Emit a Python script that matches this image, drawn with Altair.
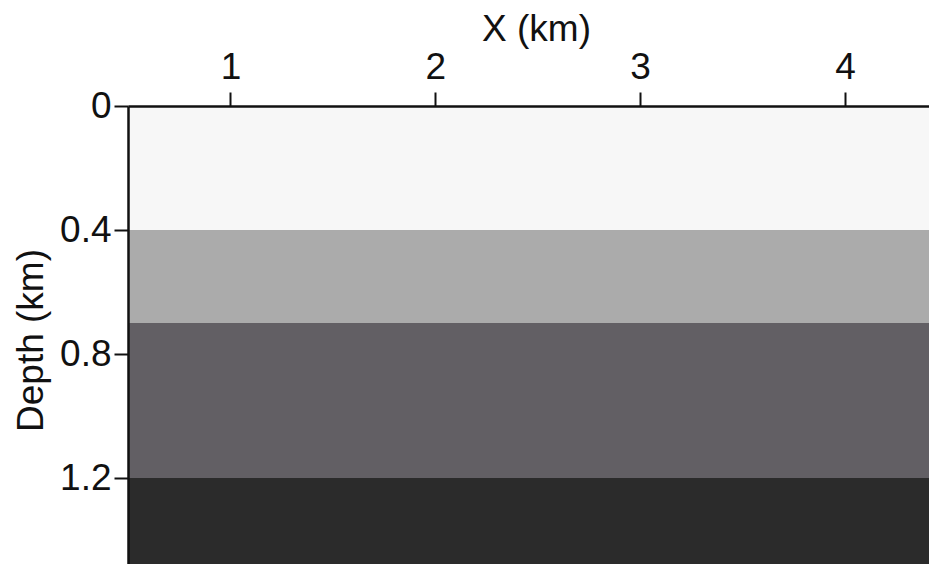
import altair as alt
import pandas as pd

# Layered depth model (km)
layer_top = [0.0, 0.4, 0.7, 1.2]
layer_bottom = [0.4, 0.7, 1.2, 1.5]
layer_shade = ["#f7f7f7", "#ababab", "#625f64", "#2b2b2b"]
layer_name = ["L1", "L2", "L3", "L4"]
x_start = [0.5, 0.5, 0.5, 0.5]
x_end = [4.5, 4.5, 4.5, 4.5]

x_ticks = [1, 2, 3, 4]
y_ticks = [0, 0.4, 0.8, 1.2]

df = pd.DataFrame({
    "name": layer_name,
    "top": layer_top,
    "bottom": layer_bottom,
    "x0": x_start,
    "x1": x_end,
    "shade": layer_shade,
})

FONT = "Liberation Sans"

chart = alt.Chart(df).mark_rect(clip=True).encode(
    x=alt.X("x0:Q",
            scale=alt.Scale(domain=[0.5, 4.41], nice=False, zero=False),
            axis=alt.Axis(orient="top", values=x_ticks, title="X (km)",
                          grid=False, zindex=1,
                          labelExpr="format(datum.value, 'd')",
                          titleX=408, titleY=-66, titleBaseline="alphabetic",
                          labelPadding=6)),
    x2="x1:Q",
    y=alt.Y("top:Q",
            scale=alt.Scale(domain=[0, 1.477], nice=False, zero=False, reverse=True),
            axis=alt.Axis(orient="left", values=y_ticks, title="Depth (km)",
                          grid=False, zindex=1,
                          labelExpr="datum.value == 0 ? '0' : format(datum.value, '.1f')",
                          titleX=-86, titleY=234, titleBaseline="alphabetic",
                          labelPadding=3)),
    y2="bottom:Q",
    color=alt.Color("shade:N", scale=None),
).properties(
    width=801,
    height=458,
    autosize=alt.AutoSizeParams(type="none"),
    padding={"left": 120, "top": 98, "right": 0, "bottom": 0},
).configure_view(
    stroke=None
).configure_axis(
    domainColor="#111111",
    domainWidth=2.5,
    tickColor="#111111",
    tickWidth=2,
    tickSize=14,
    labelFont=FONT,
    labelFontSize=37,
    labelColor="#111111",
    titleFont=FONT,
    titleFontSize=37,
    titleFontWeight="normal",
    titleColor="#111111",
)

chart.save("out.html", embed_options={"renderer": "svg", "actions": False})
